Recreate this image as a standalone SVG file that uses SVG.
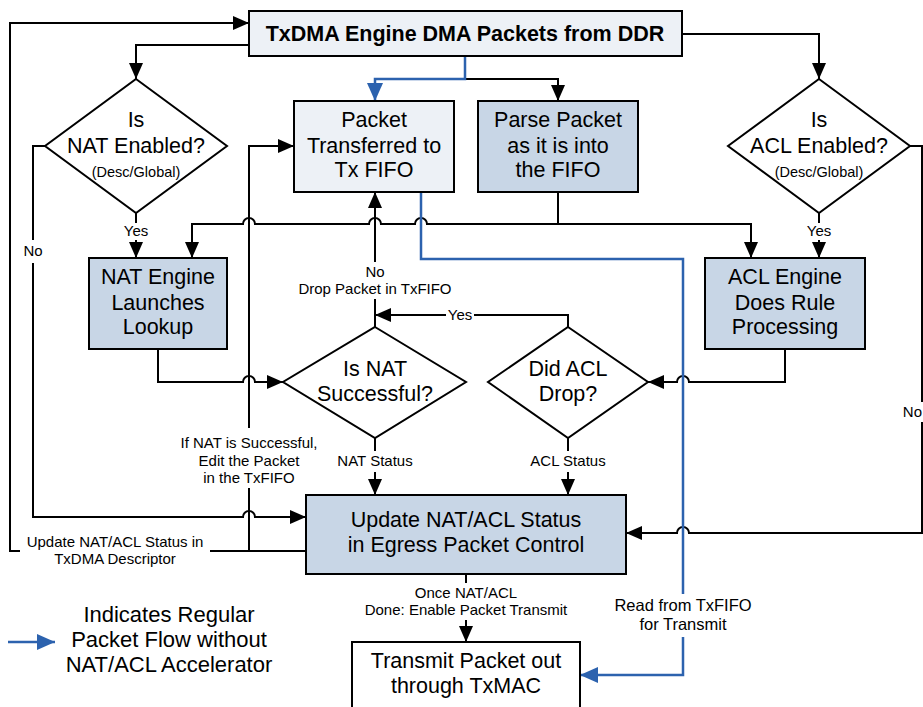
<svg xmlns="http://www.w3.org/2000/svg" width="923" height="707" viewBox="0 0 923 707">
<defs>
<marker id="ah" markerUnits="userSpaceOnUse" markerWidth="16" markerHeight="14" refX="16" refY="7" orient="auto"><path d="M0,0 L16,7 L0,14 z" fill="#000"/></marker>
<marker id="ahb" markerUnits="userSpaceOnUse" markerWidth="18" markerHeight="16" refX="18" refY="8" orient="auto"><path d="M0,0 L18,8 L0,16 z" fill="#2C62AE"/></marker>
</defs>
<style>
.box{stroke:#000;stroke-width:2}
.dark{fill:#C8D6E6}
.light{fill:#EDF1F6}
.white{fill:#fff}
.dia{fill:#fff;stroke:#000;stroke-width:2}
.t{font-family:"Liberation Sans",Arial,sans-serif;font-size:21.5px;text-anchor:middle;fill:#000}
.tb{font-family:"Liberation Sans",Arial,sans-serif;font-size:21.5px;font-weight:bold;text-anchor:middle;fill:#000}
.s{font-family:"Liberation Sans",Arial,sans-serif;font-size:15px;text-anchor:middle;fill:#000}
.m{font-family:"Liberation Sans",Arial,sans-serif;font-size:16.5px;text-anchor:middle;fill:#000}
.lg{font-family:"Liberation Sans",Arial,sans-serif;font-size:22px;text-anchor:middle;fill:#000}
.c{fill:none;stroke:#000;stroke-width:2}
.ca{fill:none;stroke:#000;stroke-width:2;marker-end:url(#ah)}
.b{fill:none;stroke:#2C62AE;stroke-width:2.5}
.ba{fill:none;stroke:#2C62AE;stroke-width:2.5;marker-end:url(#ahb)}
</style>
<rect width="923" height="707" fill="#fff"/>

<g id="connectors">
<path class="ca" d="M249,45 H136 V79"/>
<path class="ca" d="M682,34 H819 V79"/>
<path class="ca" d="M465,79 H558 V101"/>
<path class="c" d="M136,213 V223"/>
<path class="ca" d="M136,240 V258"/>
<path class="c" d="M819,213 V223"/>
<path class="ca" d="M819,240 V258"/>
<path class="ca" d="M558,224 H427 A6,6 0 0 0 415,224 H381 A6,6 0 0 0 369,224 H255 A6,6 0 0 0 243,224 H192 V258"/>
<path class="ca" d="M558,192 V224 H751 V258"/>
<path class="c" d="M45,146 H33 V240"/>
<path class="ca" d="M33,263 V517 H243 A6,6 0 0 1 255,517 H306"/>
<path class="c" d="M910,146 H922 V402"/>
<path class="ca" d="M922,422 V533 H689 A6,6 0 0 0 677,533 H626"/>
<path class="c" d="M306,551 H210"/>
<path class="ca" d="M20,551 H10 V23 H249"/>
<path class="c" d="M249,551 V488"/>
<path class="ca" d="M249,428 V146 H294"/>
<path class="ca" d="M158,349 V382 H243 A6,6 0 0 1 255,382 H283"/>
<path class="ca" d="M785,349 V382 H689 A6,6 0 0 0 677,382 H648"/>
<path class="c" d="M568,327 V315 H474"/>
<path class="ca" d="M446,315 H375"/>
<path class="c" d="M375,327 V299"/>
<path class="ca" d="M375,262 V192"/>
<path class="c" d="M375,438 V451"/>
<path class="ca" d="M375,472 V495"/>
<path class="c" d="M568,438 V451"/>
<path class="ca" d="M568,472 V495"/>
<path class="c" d="M466,574 V583"/>
<path class="ca" d="M466,620 V642"/>
<path class="b" d="M421,192 V259 H683 V594"/>
<path class="ba" d="M683,637 V675 H580"/>
<path class="ba" d="M465,56 V79 H375 V101"/>
</g>

<g id="labels">
<text class="s" x="136" y="236">Yes</text>
<text class="s" x="819" y="236">Yes</text>
<text class="s" x="33" y="256">No</text>
<text class="s" x="922" y="417" style="text-anchor:end">No</text>
<text class="s" x="375" y="277">No</text>
<text class="s" x="375" y="294">Drop Packet in TxFIFO</text>
<text class="s" x="460" y="320">Yes</text>
<text class="s" x="249" y="448">If NAT is Successful,</text>
<text class="s" x="249" y="466">Edit the Packet</text>
<text class="s" x="249" y="483">in the TxFIFO</text>
<text class="s" x="375" y="466">NAT Status</text>
<text class="s" x="568" y="466">ACL Status</text>
<text class="s" x="115" y="547">Update NAT/ACL Status in</text>
<text class="s" x="115" y="564">TxDMA Descriptor</text>
<text class="s" x="466" y="598">Once NAT/ACL</text>
<text class="s" x="466" y="615">Done: Enable Packet Transmit</text>
<text class="m" x="683" y="611">Read from TxFIFO</text>
<text class="m" x="683" y="630">for Transmit</text>
</g>

<g id="txdma">
<rect class="box light" x="249" y="11" width="433" height="45"/>
<text class="tb" x="465" y="41">TxDMA Engine DMA Packets from DDR</text>
</g>

<g id="nat-enabled">
<polygon class="dia" points="136,79 227,146 136,213 45,146"/>
<text class="t" x="136" y="127">Is</text>
<text class="t" x="136" y="153">NAT Enabled?</text>
<text class="s" x="136" y="177" style="font-size:14.5px">(Desc/Global)</text>
</g>

<g id="acl-enabled">
<polygon class="dia" points="819,79 910,146 819,213 728,146"/>
<text class="t" x="819" y="127">Is</text>
<text class="t" x="819" y="153">ACL Enabled?</text>
<text class="s" x="819" y="177" style="font-size:14.5px">(Desc/Global)</text>
</g>

<g id="packet-transferred">
<rect class="box light" x="294" y="101" width="160" height="91"/>
<text class="t" x="374" y="127">Packet</text>
<text class="t" x="374" y="153">Transferred to</text>
<text class="t" x="374" y="177">Tx FIFO</text>
</g>

<g id="parse-packet">
<rect class="box dark" x="478" y="101" width="160" height="91"/>
<text class="t" x="558" y="127">Parse Packet</text>
<text class="t" x="558" y="153">as it is into</text>
<text class="t" x="558" y="177">the FIFO</text>
</g>

<g id="nat-engine">
<rect class="box dark" x="89" y="258" width="138" height="91"/>
<text class="t" x="158" y="284">NAT Engine</text>
<text class="t" x="158" y="310">Launches</text>
<text class="t" x="158" y="334">Lookup</text>
</g>

<g id="acl-engine">
<rect class="box dark" x="705" y="258" width="160" height="91"/>
<text class="t" x="785" y="284">ACL Engine</text>
<text class="t" x="785" y="310">Does Rule</text>
<text class="t" x="785" y="334">Processing</text>
</g>

<g id="is-nat-successful">
<polygon class="dia" points="375,327 466,382 375,438 283,382"/>
<text class="t" x="375" y="376">Is NAT</text>
<text class="t" x="375" y="401">Successful?</text>
</g>

<g id="did-acl-drop">
<polygon class="dia" points="568,327 648,382 568,438 488,382"/>
<text class="t" x="568" y="376">Did ACL</text>
<text class="t" x="568" y="401">Drop?</text>
</g>

<g id="update-status">
<rect class="box dark" x="306" y="495" width="320" height="79"/>
<text class="t" x="466" y="527">Update NAT/ACL Status</text>
<text class="t" x="466" y="552">in Egress Packet Control</text>
</g>

<g id="transmit">
<rect class="box white" x="352" y="642" width="228" height="80"/>
<text class="t" x="466" y="668">Transmit Packet out</text>
<text class="t" x="466" y="693">through TxMAC</text>
</g>

<g id="legend">
<path class="ba" d="M8,642 H55"/>
<text class="lg" x="169" y="622">Indicates Regular</text>
<text class="lg" x="169" y="647">Packet Flow without</text>
<text class="lg" x="169" y="672">NAT/ACL Accelerator</text>
</g>
</svg>
